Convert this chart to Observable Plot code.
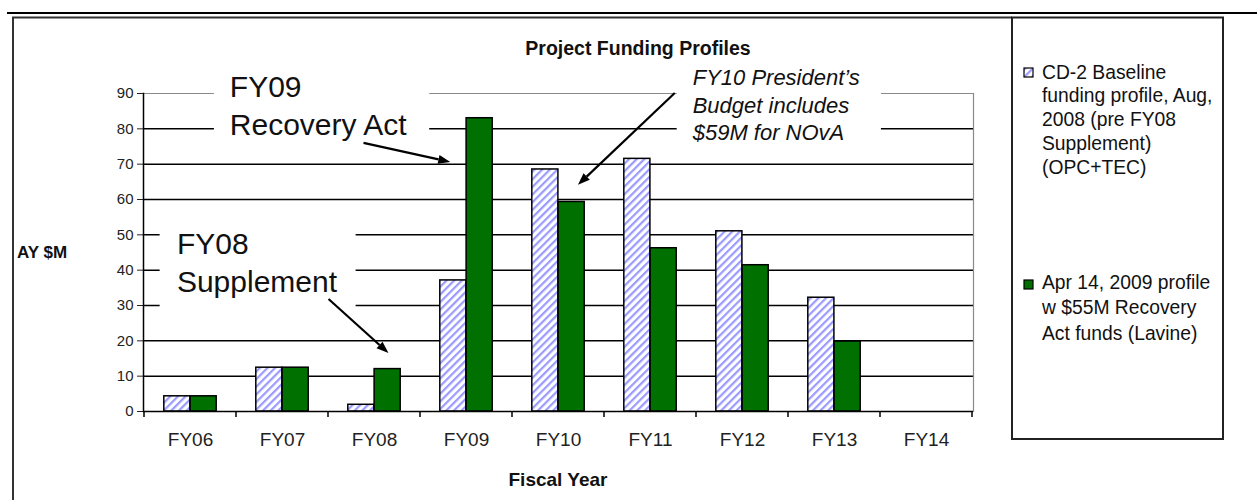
<!DOCTYPE html>
<html><head><meta charset="utf-8">
<script src="https://cdn.jsdelivr.net/npm/d3@7"></script>
<script src="https://cdn.jsdelivr.net/npm/@observablehq/plot@0.6"></script>
<style>
body{margin:0;background:#fff;}
#wrap{position:relative;width:1257px;height:500px;overflow:hidden;background:#fff;}
</style></head>
<body><div id="wrap"></div>
<script>
// ---- data ----
const years = ["FY06","FY07","FY08","FY09","FY10","FY11","FY12","FY13","FY14"];
const baselineProfile = [4.3, 12.4, 1.9, 37.1, 68.5, 71.5, 51.0, 32.2, null];
const apr2009Profile  = [4.3, 12.4, 12.0, 83.0, 59.3, 46.2, 41.4, 19.8, null];
const yTicks = [0,10,20,30,40,50,60,70,80,90];
const chartTitle = "Project Funding Profiles";
const yLabel = "AY $M";
const xLabel = "Fiscal Year";
const legendBaseline = ["CD-2 Baseline","funding profile, Aug,","2008 (pre FY08","Supplement)","(OPC+TEC)"];
const legendApr = ["Apr 14, 2009 profile","w $55M Recovery","Act funds (Lavine)"];

const baseRows = years.map((year,i)=>({year, value: baselineProfile[i]})).filter(d=>d.value!=null);
const aprRows  = years.map((year,i)=>({year, value: apr2009Profile[i]})).filter(d=>d.value!=null);

// annotation layout (x in category-index units, y in $M units)
const annotations = [
  {lines:["FY09","Recovery Act"], italic:false, size:30, box:[0.26,2.60,95,74.7], textX:0.433, baselines:[88.9,78.1], arrow:[1.886,75.9,2.829,70.5]},
  {lines:["FY08","Supplement"], italic:false, size:30, box:[-0.33,1.80,52.6,28.6], textX:-0.142, baselines:[44.4,33.7], arrow:[1.506,31.7,2.157,16.4]},
  {lines:["FY10 President\u2019s","Budget includes","$59M for NOvA"], italic:true, size:22, box:[5.29,7.51,99.3,73.9], textX:5.464, baselines:[92.3,84.4,76.7], arrow:[5.269,90.0,4.217,64.0]}
];

const FONT = "'Liberation Sans', Arial, sans-serif";
const GREEN = "#007000";

const plot = Plot.plot({
  width: 1257, height: 500,
  marginLeft: 143, marginRight: 284, marginTop: 93, marginBottom: 89,
  style: {fontFamily: FONT, background: "transparent", color: "#000"},
  x: {domain: years, padding: 0, label: null},
  y: {domain: [0, 90], label: null},
  marks: [
    Plot.gridY({ticks: yTicks.filter(t => t > 0 && t < 90), stroke: "#000", strokeOpacity: 1, strokeWidth: 1.5}),
    Plot.ruleY([90], {stroke: "#8a8a8a", strokeWidth: 1.2}),
    Plot.frame({anchor: "right", stroke: "#8a8a8a", strokeWidth: 1.2}),
    Plot.barY(baseRows, {x: "year", y: "value", fill: "url(#hatch)", stroke: "#000", strokeWidth: 1.5, insetLeft: 19.8, insetRight: 46.1}),
    Plot.barY(aprRows, {x: "year", y: "value", fill: GREEN, stroke: "#000", strokeWidth: 1.5, insetLeft: 46.1, insetRight: 19.8}),
    Plot.ruleY([0], {stroke: "#000", strokeWidth: 1.5}),
    Plot.frame({anchor: "left", stroke: "#000", strokeWidth: 1.5}),
    Plot.axisY({ticks: yTicks, tickSize: 6, tickPadding: 4, fontSize: 15, label: null, color: "#222"}),
    Plot.axisX({tickSize: 0, tickPadding: 21, fontSize: 19, label: null, color: "#222"})
  ]
});
document.getElementById("wrap").appendChild(plot);

const svg = d3.select(plot);
// make sure y tick labels get their size
svg.selectAll("g[aria-label^='y-axis'] text").attr("font-size", 15).style("font-size","15px");

const xs = plot.scale("x"), ys = plot.scale("y");
const bw = xs.bandwidth;
const x0 = xs.apply(years[0]);
const X = pos => x0 + (pos + 0.5) * bw;
const Y = v => ys.apply(v);

// hatch pattern
const defs = svg.insert("defs", ":first-child");
const pat = defs.append("pattern").attr("id","hatch").attr("patternUnits","userSpaceOnUse")
  .attr("width",5.4).attr("height",5.4).attr("patternTransform","rotate(45)");
pat.append("rect").attr("width",5.4).attr("height",5.4).attr("fill","#fff");
pat.append("rect").attr("width",2.2).attr("height",5.4).attr("fill","#9a9aff");

const g = svg.append("g").attr("text-anchor","start");
// category boundary ticks
for (let i = 0; i <= years.length; i++) {
  const px = x0 + i * bw;
  g.append("line").attr("x1",px).attr("x2",px).attr("y1",Y(0)).attr("y2",Y(0)+6).attr("stroke","#000").attr("stroke-width",1.5);
}

function arrow(sel, x1,y1,x2,y2){
  const a = Math.atan2(y2-y1, x2-x1), L = 12, w = 4.5;
  const bx = x2 - L*Math.cos(a), by = y2 - L*Math.sin(a);
  sel.append("line").attr("x1",x1).attr("y1",y1).attr("x2",bx).attr("y2",by).attr("stroke","#000").attr("stroke-width",2.2);
  sel.append("polygon").attr("points", [[x2,y2],[bx - w*Math.sin(a), by + w*Math.cos(a)],[bx + w*Math.sin(a), by - w*Math.cos(a)]].map(p=>p.join(",")).join(" ")).attr("fill","#000");
}

function txt(sel, x, y, t, opts) {
  const e = sel.append("text").attr("x",x).attr("y",y).attr("text-anchor",opts.anchor||"start")
    .attr("font-family",FONT).attr("font-size",opts.size).attr("fill",opts.fill||"#111").text(t);
  if (opts.bold) e.attr("font-weight","bold");
  if (opts.italic) e.attr("font-style","italic");
  return e;
}

// annotations
for (const an of annotations) {
  const [bx1,bx2,by1,by2] = an.box;
  g.append("rect").attr("x",X(bx1)).attr("y",Y(by1)).attr("width",X(bx2)-X(bx1)).attr("height",Y(by2)-Y(by1)).attr("fill","#fff");
  an.lines.forEach((t,i) => txt(g, X(an.textX), Y(an.baselines[i]), t, {size: an.size, italic: an.italic}));
  const [a1,a2,a3,a4] = an.arrow;
  arrow(g, X(a1), Y(a2), X(a3), Y(a4));
}

// titles
txt(g, 638, 55, chartTitle, {size: 19.5, bold: true, anchor: "middle"});
txt(g, 17, 258, yLabel, {size: 17, bold: true});
txt(g, (X(-0.5)+X(years.length-0.5))/2, 486, xLabel, {size: 19, bold: true, anchor: "middle"});

// page frames
g.append("line").attr("x1",7).attr("x2",1257).attr("y1",13).attr("y2",13).attr("stroke","#000").attr("stroke-width",2);
g.append("path").attr("d","M13,500V17.5H1012").attr("fill","none").attr("stroke","#333").attr("stroke-width",2);

// legend
g.append("rect").attr("x",1012).attr("y",17.5).attr("width",211).attr("height",421.5).attr("fill","#fff").attr("stroke","#222").attr("stroke-width",2);
g.append("rect").attr("x",1024).attr("y",68).attr("width",9).attr("height",9).attr("fill","url(#hatch)").attr("stroke","#000").attr("stroke-width",1.2);
g.append("rect").attr("x",1024).attr("y",280).attr("width",9).attr("height",9).attr("fill",GREEN).attr("stroke","#000").attr("stroke-width",1.2);
legendBaseline.forEach((t,i)=>txt(g, 1042, 78.5+i*23.8, t, {size: 19.3}));
legendApr.forEach((t,i)=>txt(g, 1042, 288.5+i*25.5, t, {size: 19.3}));
</script>
</body></html>
